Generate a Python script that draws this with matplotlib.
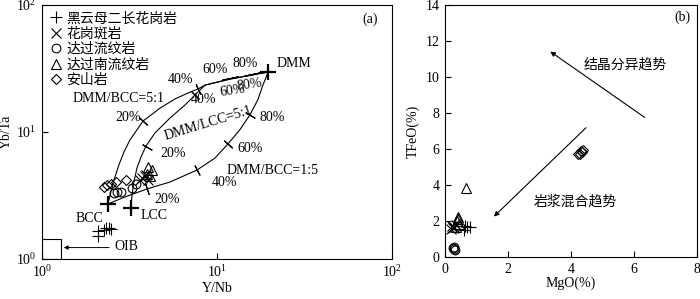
import matplotlib
matplotlib.use("Agg")
import matplotlib.pyplot as plt
from matplotlib.patches import Rectangle

plt.rcParams['font.family'] = ['Liberation Serif', 'Noto Sans CJK SC']
plt.rcParams['mathtext.fontset'] = 'stix'
plt.rcParams['font.size'] = 10

# ============================================================
# Data — panel (a): Yb/Ta vs Y/Nb
# ============================================================
labels = ["黑云母二长花岗岩", "花岗斑岩", "达过流纹岩", "达过南流纹岩", "安山岩"]

a_bt_x = [2.09, 2.09, 2.32, 2.41, 2.48, 2.26]
a_bt_y = [1.66, 1.52, 1.75, 1.75, 1.72, 1.69]
a_gp_x = [3.63, 3.73, 3.88, 4.03, 3.93]
a_gp_y = [4.19, 4.34, 4.50, 4.19, 4.58]
a_rh_x = [2.58, 2.68, 2.83, 3.27, 3.44]
a_rh_y = [3.31, 3.37, 3.37, 3.62, 3.90]
a_srh_x = [4.03, 4.25, 3.98, 4.14]
a_srh_y = [5.30, 5.02, 4.67, 4.50]
a_an_x = [2.26, 2.35, 2.48, 2.65, 3.02]
a_an_y = [3.69, 3.83, 3.90, 4.04, 4.19]

# end members
em_names = ["DMM", "BCC", "LCC"]
em_x = [19.6, 2.38, 3.22]
em_y = [29.7, 2.71, 2.52]

# mixing curves
c1_x = [2.38, 2.45, 2.58, 2.75, 2.94, 3.18, 3.78, 4.72, 5.75, 7.01, 7.79, 8.54, 11.86, 15.85, 19.6]
c1_y = [2.71, 3.19, 4.19, 5.50, 6.96, 8.65, 12.2, 15.4, 18.2, 20.6, 21.8, 23.4, 26.1, 28.1, 29.7]
c2_x = [3.22, 3.27, 3.35, 3.49, 3.68, 3.93, 4.42, 5.39, 6.56, 7.49, 8.54, 11.86, 15.85, 19.6]
c2_y = [2.52, 3.19, 4.04, 5.21, 6.36, 7.76, 9.82, 12.9, 16.3, 19.6, 23.4, 26.1, 28.1, 29.7]
c3_x = [2.38, 2.98, 3.98, 5.39, 7.69, 9.74, 11.55, 13.5, 15.4, 17.1, 18.3, 19.6]
c3_y = [2.71, 3.08, 3.56, 4.04, 5.02, 6.24, 8.05, 10.4, 13.6, 17.9, 23.4, 29.7]

# percentage tick marks on curves
tk_x = [3.78, 7.79, 11.86, 15.85, 3.98, 7.49, 3.98, 7.69, 11.55, 15.4]
tk_y = [12.2, 21.8, 26.6, 28.6, 7.62, 19.6, 3.56, 5.02, 8.05, 13.6]
tk_ang = [47, 25, 102, 102, 60, 45, 18, 28, 48, 59]
tk_len = [8, 8, 12, 12, 8, 8, 8, 8, 8, 8]

# OIB field
oib_x = (1.0, 1.284)
oib_y = (1.0, 1.44)

# ============================================================
# Data — panel (b): TFeO vs MgO
# ============================================================
b_bt_x = [0.60, 0.70, 0.79, 0.65]
b_bt_y = [1.48, 1.64, 1.64, 1.70]
b_gp_x = [0.22, 0.25, 0.30, 0.20, 0.35]
b_gp_y = [1.75, 1.60, 1.65, 1.55, 1.80]
b_rh_x = [0.25, 0.28, 0.30, 0.32]
b_rh_y = [0.50, 0.45, 0.55, 0.40]
b_srh_x = [0.67, 0.41, 0.38, 0.44, 0.36, 0.42]
b_srh_y = [3.84, 2.25, 2.00, 1.85, 1.65, 2.10]
b_an_x = [4.22, 4.35, 4.38, 4.29, 4.32]
b_an_y = [5.75, 5.86, 5.97, 5.70, 5.90]

fc_tail, fc_head = (6.41, 7.67), (3.27, 11.5)
mx_tail, mx_head = (4.54, 7.29), (1.49, 2.14)

# ============================================================
# Figure
# ============================================================
fig = plt.figure(figsize=(7.0, 2.99), dpi=100)
ax_a = fig.add_axes([42 / 700, 40 / 299, 350 / 700, 254 / 299])
ax_b = fig.add_axes([445 / 700, 42 / 299, 252 / 700, 252 / 299])

mk = dict(ls="none", color="k", mfc="none", mew=0.8)
styles = [("+", 8), ("x", 6.5), ("o", 6.3), ("^", 6.5), ("D", 5)]

# ── panel (a) ────────────────────────────────────────────
ax = ax_a
ax.set_xscale("log")
ax.set_yscale("log")
for cx, cy in ((c1_x, c1_y), (c2_x, c2_y), (c3_x, c3_y)):
    ax.plot(cx, cy, color="k", lw=0.8)
for x, y, a, l in zip(tk_x, tk_y, tk_ang, tk_len):
    ax.plot(x, y, marker=(2, 2, a), ms=l, color="k", mew=0.8, ls="none")

series_a = [(a_bt_x, a_bt_y), (a_gp_x, a_gp_y), (a_rh_x, a_rh_y),
            (a_srh_x, a_srh_y), (a_an_x, a_an_y)]
for (sx, sy), (m, s), lab in zip(series_a, styles, labels):
    ax.plot(sx, sy, marker=m, ms=s, label=lab, **mk)

ax.plot(em_x, em_y, marker="+", ms=12, mew=1.6, color="k", ls="none")

ax.add_patch(Rectangle((oib_x[0], oib_y[0]), oib_x[1] - oib_x[0],
                       oib_y[1] - oib_y[0], fill=False, lw=0.8, ec="k"))
ax.annotate("", xy=(oib_x[1], 1.23), xytext=(2.51, 1.23),
            arrowprops=dict(arrowstyle="-|>", lw=0.7, color="k", mutation_scale=6))
ax.text(2.58, 1.25, "OIB", ha="left", va="center")

txt = [
    (22.0, 34.9, "DMM", "left", 0),
    (9.74, 30.8, "60%", "center", 0),
    (14.5, 34.9, "80%", "center", 0),
    (6.15, 25.7, "40%", "center", 0),
    (2.75, 18.5, "DMM/BCC=5:1", "center", 0),
    (12.2, 21.0, "60%", "center", 8),
    (15.4, 23.4, "80%", "center", 8),
    (8.32, 17.9, "40%", "center", 0),
    (3.10, 13.1, "20%", "center", 0),
    (8.88, 11.8, "DMM/LCC=5:1", "center", 17),
    (20.6, 13.1, "80%", "center", 0),
    (15.4, 7.35, "60%", "center", 0),
    (20.9, 5.02, "DMM/BCC=1:5", "center", 0),
    (11.1, 3.97, "40%", "center", 0),
    (5.18, 2.92, "20%", "center", 0),
    (5.61, 6.83, "20%", "center", 0),
    (1.86, 2.10, "BCC", "center", 0),
    (4.37, 2.22, "LCC", "center", 0),
]
for x, y, s, ha, rot in txt:
    ax.text(x, y, s, ha=ha, va="center", rotation=rot, rotation_mode="anchor")

ax.text(0.937, 0.945, "(a)", transform=ax.transAxes, ha="center", va="center")
ax.set_xlim(1, 100)
ax.set_ylim(1, 100)
ax.set_xlabel("Y/Nb", labelpad=1)
ax.set_ylabel("Yb/Ta", labelpad=2)
ax.legend(loc="upper left", frameon=False, borderpad=0.3, borderaxespad=0.2,
          handlelength=1.0, handletextpad=0.25, labelspacing=0.15)

# ── panel (b) ────────────────────────────────────────────
ax = ax_b
series_b = [(b_bt_x, b_bt_y), (b_gp_x, b_gp_y), (b_rh_x, b_rh_y),
            (b_srh_x, b_srh_y), (b_an_x, b_an_y)]
for (sx, sy), (m, s) in zip(series_b, styles):
    ax.plot(sx, sy, marker=m, ms=s, **mk)

arr = dict(arrowstyle="-|>", lw=0.8, color="k", mutation_scale=7)
ax.annotate("", xy=fc_head, xytext=fc_tail, arrowprops=arr)
ax.annotate("", xy=mx_head, xytext=mx_tail, arrowprops=arr)
ax.text(5.71, 10.7, "结晶分异趋势", ha="center", va="center")
ax.text(4.13, 3.07, "岩浆混合趋势", ha="center", va="center")
ax.text(0.944, 0.951, "(b)", transform=ax.transAxes, ha="center", va="center")

ax.set_xlim(0, 8)
ax.set_ylim(0, 14)
ax.set_xticks([0, 2, 4, 6, 8])
ax.set_yticks([0, 2, 4, 6, 8, 10, 12, 14])
ax.set_xlabel("MgO(%)", labelpad=1)
ax.set_ylabel("TFeO(%)", labelpad=4)

for ax in (ax_a, ax_b):
    ax.tick_params(which="major", direction="in", length=4, width=0.8, pad=4)
    ax.tick_params(which="minor", length=0)
    for sp in ax.spines.values():
        sp.set_linewidth(0.8)

fig.savefig("out.png", dpi=100)
